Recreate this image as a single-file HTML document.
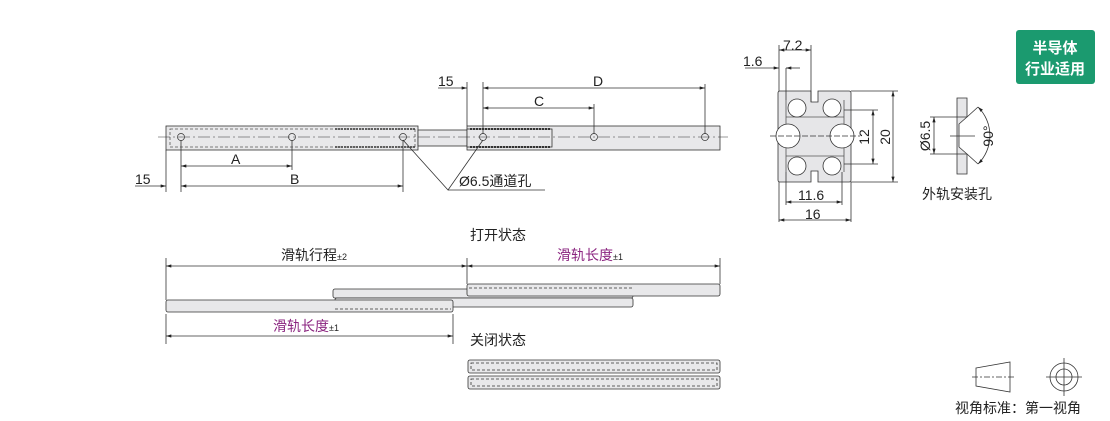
<!DOCTYPE html>
<html><head><meta charset="utf-8"><style>
html,body{margin:0;padding:0;background:#fff;}
svg{display:block;font-family:"Liberation Sans","Noto Sans CJK SC",sans-serif;}
</style></head><body>
<svg width="1110" height="421" viewBox="0 0 1110 421" xmlns="http://www.w3.org/2000/svg">
<defs>
<marker id="a" viewBox="0 0 10 6" refX="10" refY="3" markerWidth="7" markerHeight="4" orient="auto-start-reverse"><path d="M0,0L10,3L0,6z" fill="#222"/></marker>
</defs>
<g stroke="#333" stroke-width="0.8" fill="none">
<rect x="166" y="126" width="252" height="24" fill="#e8e8ea"/>
<rect x="170" y="129" width="245" height="18" stroke-dasharray="3,2" stroke="#555"/>
<rect x="418" y="130" width="52" height="16" fill="#e8e8ea"/>
<rect x="467" y="126" width="253" height="24" fill="#e8e8ea"/>
<rect x="467" y="129" width="85" height="18" fill="#e8e8ea"/>
<line x1="470" y1="129" x2="550" y2="129" stroke-dasharray="2,1" stroke-width="2"/>
<line x1="470" y1="147" x2="550" y2="147" stroke-dasharray="2,1" stroke-width="2"/>
<line x1="335" y1="129" x2="415" y2="129" stroke-dasharray="2,1" stroke-width="1.5"/>
<line x1="335" y1="147" x2="415" y2="147" stroke-dasharray="2,1" stroke-width="1.5"/>
<line x1="158" y1="137" x2="728" y2="137" stroke-dasharray="12,3,2,3" stroke-width="0.6"/>
<g stroke-width="0.7">
<circle cx="181" cy="137" r="3.5"/><circle cx="292" cy="137" r="3.5"/><circle cx="403" cy="137" r="3.5"/>
<circle cx="483" cy="137" r="3.5"/><circle cx="594" cy="137" r="3.5"/><circle cx="705" cy="137" r="3.5"/>
</g>
<line x1="166" y1="150" x2="166" y2="192"/><line x1="181" y1="140" x2="181" y2="192"/>
<line x1="292" y1="140" x2="292" y2="170"/><line x1="403" y1="140" x2="403" y2="192"/>
<line x1="181" y1="166" x2="292" y2="166" marker-start="url(#a)" marker-end="url(#a)"/>
<line x1="181" y1="186" x2="403" y2="186" marker-start="url(#a)" marker-end="url(#a)"/>
<line x1="135" y1="186" x2="166" y2="186" marker-end="url(#a)"/>
<line x1="467" y1="82" x2="467" y2="126"/><line x1="483" y1="82" x2="483" y2="134"/>
<line x1="594" y1="104" x2="594" y2="134"/><line x1="705" y1="84" x2="705" y2="134"/>
<line x1="438" y1="88" x2="467" y2="88" marker-end="url(#a)"/>
<line x1="483" y1="88" x2="705" y2="88" marker-start="url(#a)" marker-end="url(#a)"/>
<line x1="483" y1="108" x2="594" y2="108" marker-start="url(#a)" marker-end="url(#a)"/>
<polyline points="403,140 448,190 483,140"/>
<line x1="448" y1="190" x2="545" y2="190"/>
</g>
<g font-size="14" fill="#222">
<text x="438" y="86">15</text><text x="593" y="86">D</text><text x="534" y="106">C</text>
<text x="231" y="164">A</text><text x="290" y="184">B</text><text x="135" y="184">15</text>
<text x="459" y="186">Ø6.5通道孔</text>
</g>
<!-- cross section -->
<g stroke="#333" stroke-width="0.8" fill="none">
<path d="M780,91 H811 V102 H818 V91 H849 Q851,91 851,93 V180 Q851,182 849,182 H818 V171 H811 V182 H780 Q778,182 778,180 V93 Q778,91 780,91 Z" fill="#e6e6e8"/>
<path d="M786,100 V172 M844,100 V172 M786,117 H844 M786,156 H844" stroke="#555"/>
<g fill="#fff"><circle cx="797" cy="108" r="9"/><circle cx="832" cy="108" r="9"/><circle cx="797" cy="166" r="9"/><circle cx="832" cy="166" r="9"/><circle cx="788" cy="136" r="12"/><circle cx="842" cy="136" r="12"/></g>
<path d="M778,120 V152 M851,120 V152" stroke="#e6e6e8" stroke-width="0"/>
<line x1="770" y1="136" x2="860" y2="136" stroke-dasharray="6,2"/>
<line x1="779" y1="45" x2="779" y2="91"/><line x1="811" y1="45" x2="811" y2="102"/>
<line x1="786" y1="68" x2="786" y2="100"/>
<line x1="779" y1="50" x2="811" y2="50" marker-start="url(#a)" marker-end="url(#a)"/>
<line x1="745" y1="68" x2="779" y2="68" marker-end="url(#a)"/><line x1="800" y1="68" x2="786" y2="68" marker-end="url(#a)"/>
<line x1="851" y1="91" x2="898" y2="91"/><line x1="851" y1="182" x2="898" y2="182"/>
<line x1="844" y1="110" x2="878" y2="110"/><line x1="844" y1="164" x2="878" y2="164"/>
<line x1="893" y1="91" x2="893" y2="182" marker-start="url(#a)" marker-end="url(#a)"/>
<line x1="873" y1="110" x2="873" y2="164" marker-start="url(#a)" marker-end="url(#a)"/>
<line x1="779" y1="182" x2="779" y2="222"/><line x1="851" y1="182" x2="851" y2="222"/>
<line x1="786" y1="172" x2="786" y2="205"/><line x1="842" y1="172" x2="842" y2="205"/>
<line x1="786" y1="202" x2="842" y2="202" marker-start="url(#a)" marker-end="url(#a)"/>
<line x1="779" y1="220" x2="851" y2="220" marker-start="url(#a)" marker-end="url(#a)"/>
<!-- hole detail -->
<path d="M957,98 H967 V117 L959,124 V147 L967,154 V174 H957 Z" fill="#e6e6e8"/>
<line x1="930" y1="117" x2="967" y2="117"/><line x1="930" y1="154" x2="967" y2="154"/>
<line x1="934" y1="117" x2="934" y2="154" marker-start="url(#a)" marker-end="url(#a)"/>
<line x1="950" y1="136" x2="975" y2="136"/>
<line x1="967" y1="117" x2="978" y2="107"/><line x1="967" y1="154" x2="978" y2="164"/>
<path d="M978,107 A40,40 0 0 1 978,164" marker-start="url(#a)" marker-end="url(#a)"/>
</g>
<g font-size="14" fill="#222">
<text x="783" y="50">7.2</text><text x="743" y="66">1.6</text>
<text x="798" y="200">11.6</text><text x="805" y="219">16</text>
<text transform="translate(869,137) rotate(-90)" text-anchor="middle">12</text>
<text transform="translate(890,137) rotate(-90)" text-anchor="middle">20</text>
<text transform="translate(930,136) rotate(-90)" text-anchor="middle">Ø6.5</text>
<text transform="translate(993,136) rotate(-90)" text-anchor="middle">90°</text>
<text x="922" y="199">外轨安装孔</text>
</g>
<rect x="1016" y="30" width="79" height="54" rx="3" fill="#1b9a6f"/>
<g font-size="15" font-weight="bold" fill="#fff" text-anchor="middle"><text x="1055" y="53">半导体</text><text x="1055" y="74">行业适用</text></g>
<g stroke="#333" stroke-width="0.8" fill="none">
<line x1="166" y1="258" x2="166" y2="300"/><line x1="467" y1="258" x2="467" y2="284"/><line x1="720" y1="258" x2="720" y2="284"/>
<line x1="166" y1="266" x2="467" y2="266" marker-start="url(#a)" marker-end="url(#a)"/>
<line x1="467" y1="266" x2="720" y2="266" marker-start="url(#a)" marker-end="url(#a)"/>
<rect x="333" y="289" width="300" height="9" rx="2" fill="#e8e8ea"/>
<rect x="335" y="298" width="298" height="9" rx="2" fill="#e8e8ea"/>
<rect x="467" y="284" width="253" height="12" rx="2" fill="#e8e8ea"/>
<line x1="469" y1="288" x2="633" y2="288" stroke-dasharray="3,2"/>
<rect x="166" y="300" width="287" height="12" rx="2" fill="#e8e8ea"/>
<line x1="335" y1="309" x2="451" y2="309" stroke-dasharray="3,2"/>
<line x1="166" y1="314" x2="166" y2="344"/><line x1="453" y1="314" x2="453" y2="344"/>
<line x1="166" y1="336" x2="453" y2="336" marker-start="url(#a)" marker-end="url(#a)"/>
<rect x="468" y="360" width="252" height="13" rx="2" fill="#e8e8ea"/>
<rect x="471" y="363" width="246" height="7" stroke-dasharray="3,2"/>
<rect x="468" y="376" width="252" height="13" rx="2" fill="#e8e8ea"/>
<rect x="471" y="379" width="246" height="7" stroke-dasharray="3,2"/>
</g>
<g font-size="14" fill="#222">
<text x="470" y="240">打开状态</text><text x="470" y="345">关闭状态</text>
<text x="281" y="260">滑轨行程<tspan font-size="9">±2</tspan></text>
<text x="557" y="260" fill="#8b2580">滑轨长度<tspan font-size="9" fill="#222">±1</tspan></text>
<text x="273" y="331" fill="#8b2580">滑轨长度<tspan font-size="9" fill="#222">±1</tspan></text>
</g>
<g stroke="#333" stroke-width="0.8" fill="none">
<path d="M976,368 L1010,362 L1010,392 L976,386 Z"/>
<line x1="972" y1="377" x2="1014" y2="377" stroke-dasharray="6,2,2,2"/>
<circle cx="1064" cy="377" r="14"/><circle cx="1064" cy="377" r="8"/>
<line x1="1046" y1="377" x2="1082" y2="377"/><line x1="1064" y1="358" x2="1064" y2="396"/>
</g>
<text x="955" y="413" font-size="14" fill="#222">视角标准：第一视角</text>
</svg>
</body></html>
